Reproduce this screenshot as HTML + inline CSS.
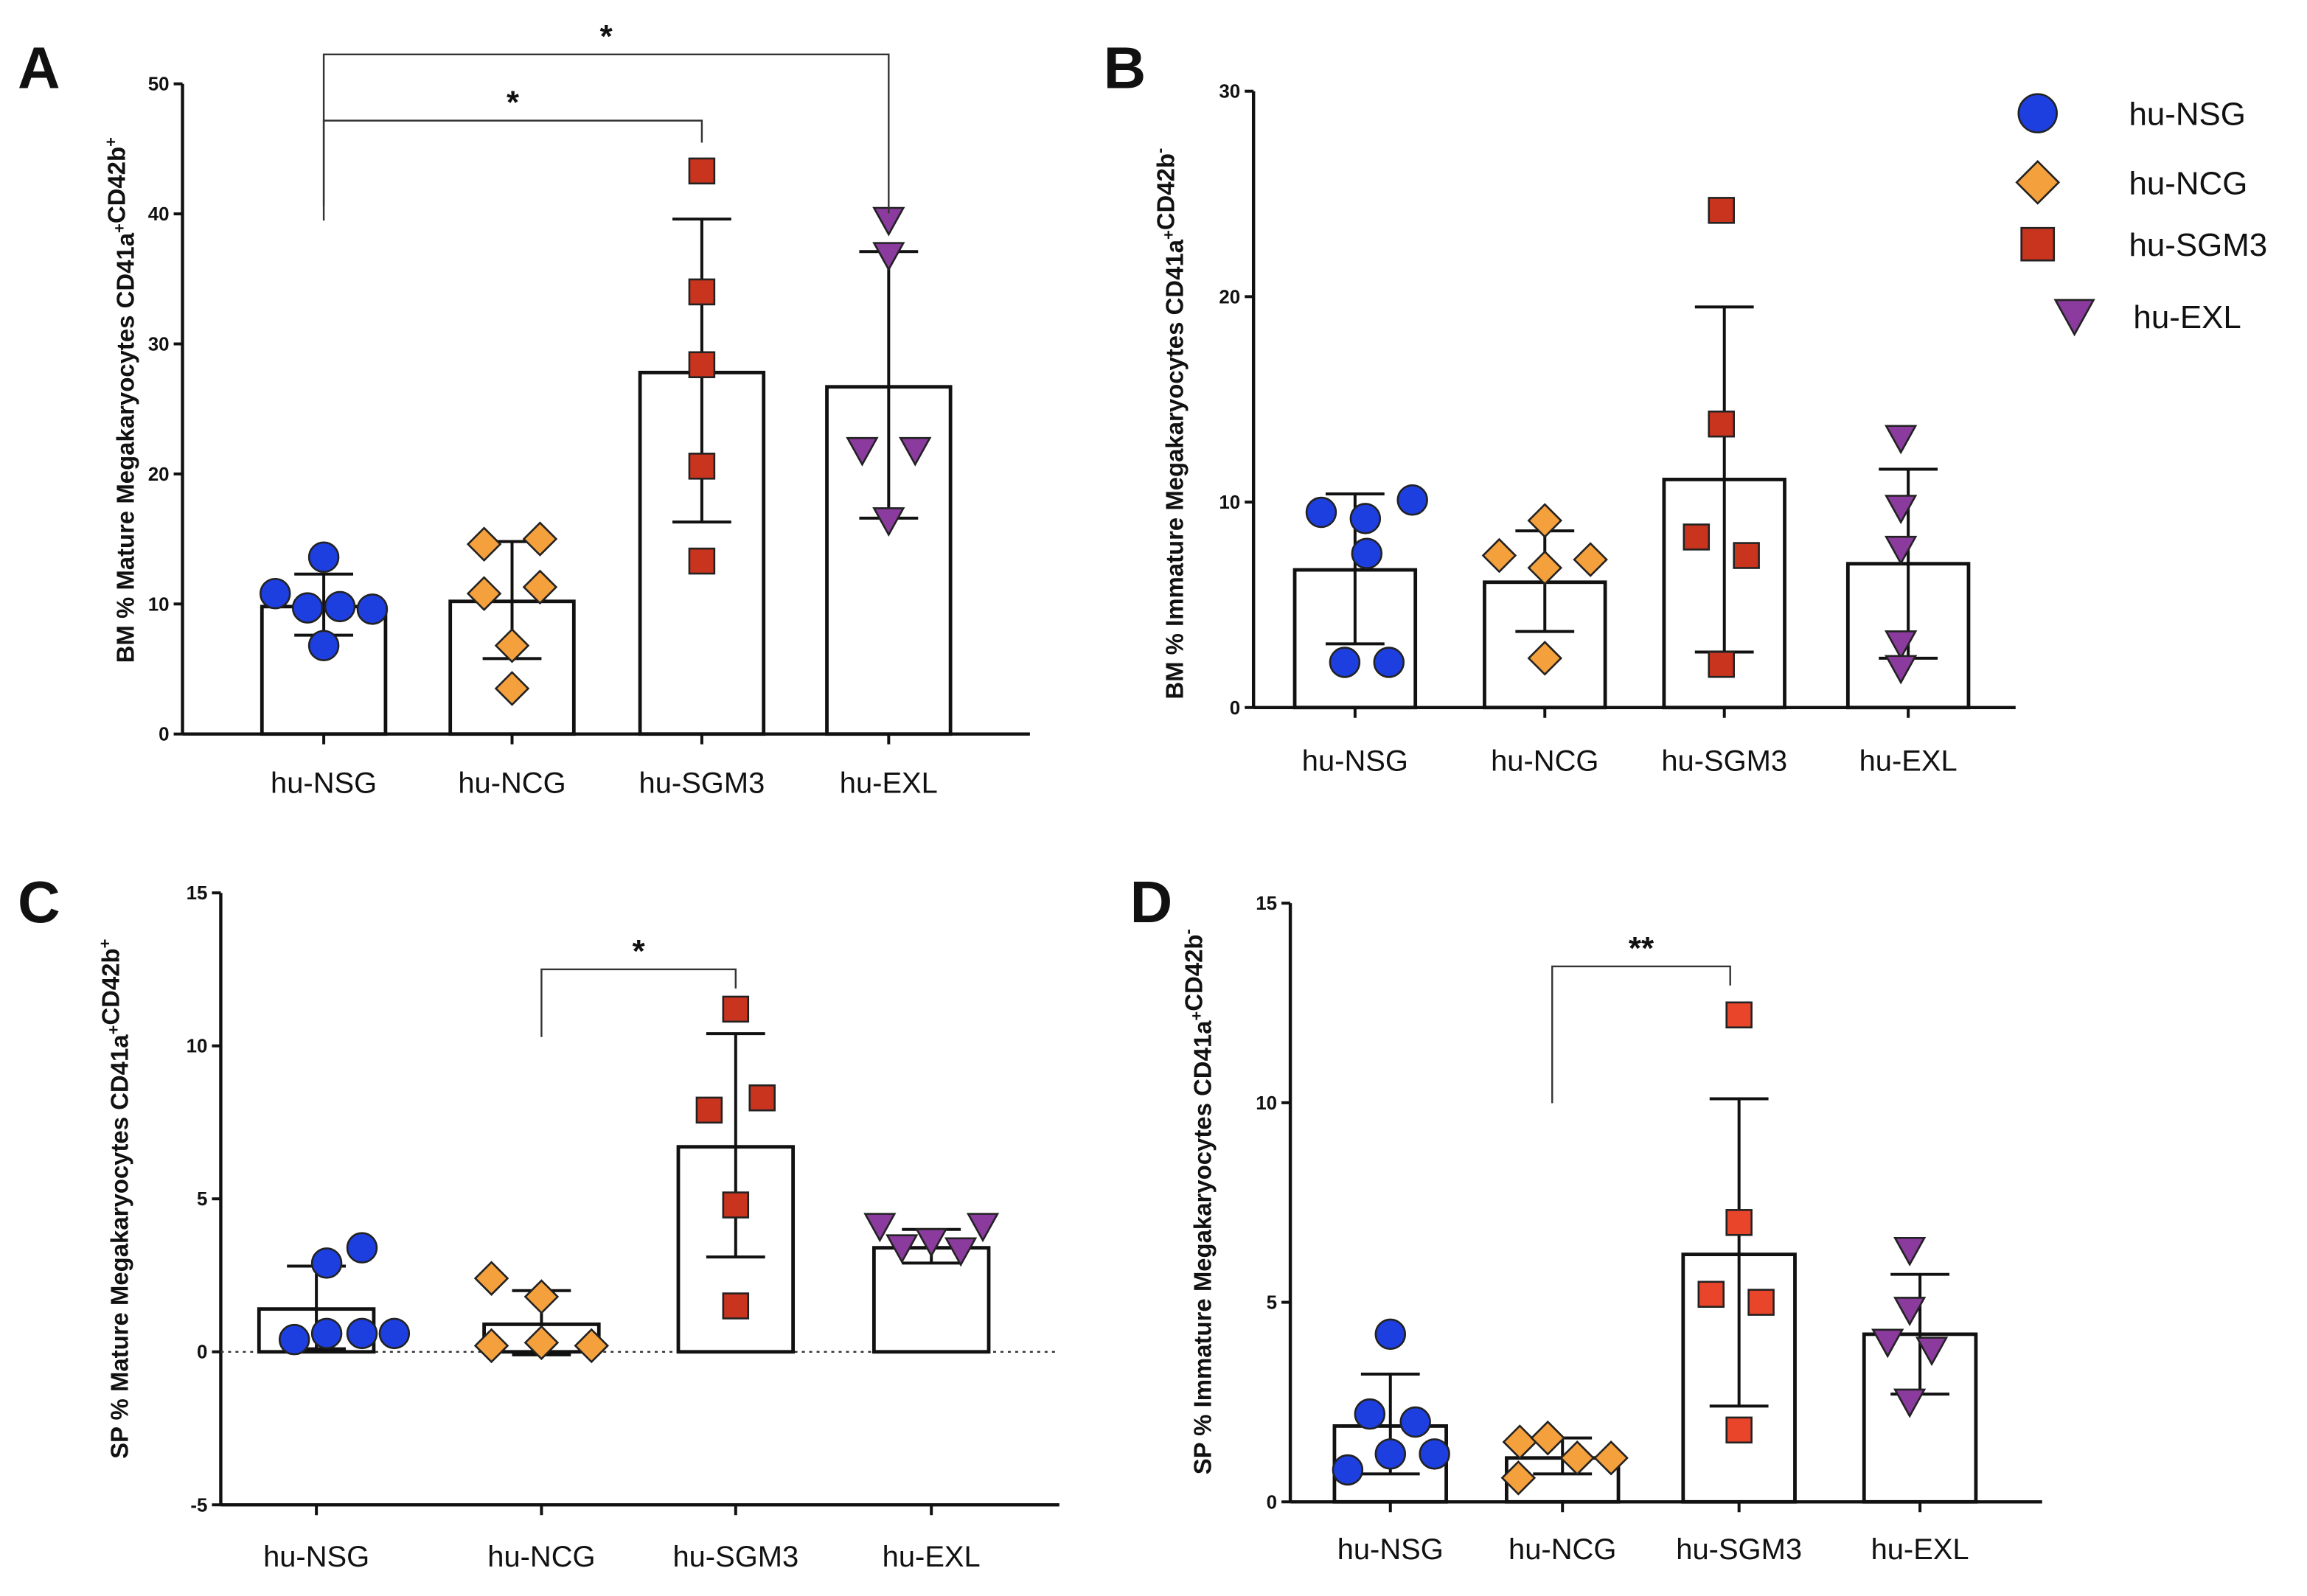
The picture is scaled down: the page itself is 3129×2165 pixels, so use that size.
<!DOCTYPE html>
<html><head><meta charset="utf-8"><style>
html,body{margin:0;padding:0;background:#fff}
svg{display:block}
text{font-family:"Liberation Sans",Arial,sans-serif}
</style></head><body>
<svg id="fig" width="3129" height="2165" viewBox="0 0 1568 1085" xmlns="http://www.w3.org/2000/svg"></svg>
<script>
const categories = ["hu-NSG","hu-NCG","hu-SGM3","hu-EXL"];
const colors = ["#1d3fe0","#f4a03c","#c9341f","#8b3a9e"];
const shapes = ["circle","diamond","square","triangle"];
// Panel A
const aMeans = [9.8,10.2,27.8,26.7];
const aErrLo = [7.6,5.8,16.3,16.6];
const aErrHi = [12.3,14.8,39.6,37.1];
const aPoints = [[13.6,10.8,9.7,9.8,9.6,6.8],[14.6,15.0,10.8,11.3,6.8,3.5],[43.3,34.0,28.4,20.6,13.3],[39.5,36.8,21.8,21.8,16.4]];
const aTicks = [0,10,20,30,40,50];
// Panel B
const bMeans = [6.7,6.1,11.1,7.0];
const bErrLo = [3.1,3.7,2.7,2.4];
const bErrHi = [10.4,8.6,19.5,11.6];
const bPoints = [[9.5,9.2,10.1,7.5,2.2,2.2],[7.4,9.1,6.8,7.2,2.4],[24.2,13.8,8.3,7.4,2.1],[13.1,9.7,7.7,3.1,1.9]];
const bTicks = [0,10,20,30];
// Panel C
const cMeans = [1.4,0.9,6.7,3.4];
const cErrLo = [0.1,-0.1,3.1,2.9];
const cErrHi = [2.8,2.0,10.4,4.0];
const cPoints = [[2.9,3.4,0.4,0.6,0.6,0.6],[2.4,1.8,0.2,0.3,0.2],[11.2,7.9,8.3,4.8,1.5],[4.1,3.6,4.1,3.4,3.3]];
const cTicks = [-5,0,5,10,15];
// Panel D
const dMeans = [1.9,1.1,6.2,4.2];
const dErrLo = [0.7,0.7,2.4,2.7];
const dErrHi = [3.2,1.6,10.1,5.7];
const dPoints = [[4.2,2.2,2.0,1.2,1.2,0.8],[1.5,1.6,0.6,1.1,1.1],[12.2,7.0,5.2,5.0,1.8],[6.3,4.8,4.0,3.8,2.5]];
const dTicks = [0,5,10,15];

const NS="http://www.w3.org/2000/svg";
const svg=document.getElementById('fig');
function mk(tag,attrs,parent){const e=document.createElementNS(NS,tag);for(const k in attrs)e.setAttribute(k,attrs[k]);(parent||svg).appendChild(e);return e;}
function marker(shape,color,x,y,g,sz){
  let e;
  if(shape==="circle") e=mk('circle',{cx:x,cy:y,r:10*sz},g);
  else if(shape==="diamond"){const r=11*sz;e=mk('polygon',{points:`${x},${y-r} ${x+r},${y} ${x},${y+r} ${x-r},${y}`},g);}
  else if(shape==="square"){const r=8.5*sz;e=mk('rect',{x:x-r,y:y-r,width:2*r,height:2*r},g);}
  else {const r=10*sz;e=mk('polygon',{points:`${x-r},${y-r*0.85} ${x+r},${y-r*0.85} ${x},${y+r*0.95}`},g);}
  e.setAttribute('fill',color);e.setAttribute('stroke','#222');e.setAttribute('stroke-width',1.3);
  return e;
}
function panel(cfg){
  const g=mk('g',{});
  
  
  const ys=v=>cfg.y0+(v-cfg.vmin)/(cfg.vmax-cfg.vmin)*(cfg.y1-cfg.y0);
  const ya=mk('line',{x1:cfg.ax,y1:ys(cfg.vmax),x2:cfg.ax,y2:ys(cfg.vmin),stroke:'#111','stroke-width':2.2},g);
  
  
  cfg.ticks.forEach(t=>{
    mk('line',{x1:cfg.ax-6,y1:ys(t),x2:cfg.ax,y2:ys(t),stroke:'#111','stroke-width':2},g);
    const tl=mk('text',{x:cfg.ax-9,y:ys(t)+4.5,'text-anchor':'end','font-size':13,'font-weight':'bold',fill:'#111'},g);
    tl.textContent=t;
    
    
  });
  const xa=mk('line',{x1:cfg.ax,y1:ys(cfg.vmin),x2:cfg.xend,y2:ys(cfg.vmin),stroke:'#111','stroke-width':2.2},g);
  
  
  if(cfg.vmin<0){mk('line',{x1:cfg.ax,y1:ys(0),x2:cfg.xend,y2:ys(0),stroke:'#333','stroke-width':1.2,'stroke-dasharray':'2,3'},g);}
  const yt=mk('text',{x:0,y:0,transform:`translate(${cfg.tx},${cfg.ty}) rotate(-90)`,'text-anchor':'middle','font-size':16.5,'font-weight':'bold',fill:'#111'},g);
  yt.innerHTML=cfg.title;
  
  
  const base=Math.max(0,cfg.vmin);
  categories.forEach((c,i)=>{
    const cx=cfg.cx[i];
    mk('line',{x1:cx,y1:ys(cfg.vmin),x2:cx,y2:ys(cfg.vmin)+7,stroke:'#111','stroke-width':2},g);
    const bar=mk('rect',{x:cx-cfg.bw/2,y:ys(cfg.means[i]),width:cfg.bw,height:ys(base)-ys(cfg.means[i]),fill:'#fff',stroke:'#111','stroke-width':2.4},g);
    
    
    const eb=mk('g',{},g);
    
    
    mk('line',{x1:cx,y1:ys(cfg.lo[i]),x2:cx,y2:ys(cfg.hi[i]),stroke:'#111','stroke-width':2},eb);
    mk('line',{x1:cx-20,y1:ys(cfg.lo[i]),x2:cx+20,y2:ys(cfg.lo[i]),stroke:'#111','stroke-width':2},eb);
    mk('line',{x1:cx-20,y1:ys(cfg.hi[i]),x2:cx+20,y2:ys(cfg.hi[i]),stroke:'#111','stroke-width':2},eb);
    cfg.pts[i].forEach((v,j)=>{
      const off=(cfg.offs[i][j]||0);
      const m=marker(shapes[i],cfg.colors[i],cx+off,ys(v),g,1);
      
      
    });
    const cl=mk('text',{x:cx,y:cfg.labY,'text-anchor':'middle','font-size':20,fill:'#111'},g);
    cl.textContent=c;
    
    
  });
  cfg.sig.forEach(s=>{
    const sg=mk('g',{},g);
    
    
    mk('polyline',{points:`${s.x1},${s.d1} ${s.x1},${s.y} ${s.x2},${s.y} ${s.x2},${s.d2}`,fill:'none',stroke:'#333','stroke-width':1.2},sg);
    const st=mk('text',{x:(s.x1+s.x2)/2,y:s.y-5,'text-anchor':'middle','font-size':22,'font-weight':'bold',fill:'#111'},sg);
    st.textContent=s.t;
  });
  const L=mk('text',{x:cfg.lx,y:cfg.ly,'font-size':40,'font-weight':'bold',fill:'#111'},g);
  L.textContent=cfg.letter;
  
  
}
const sup=(s)=>`<tspan font-size="11" dy="-6">${s}</tspan><tspan dy="6"></tspan>`;
panel({name:'panel-a',letter:'A',lx:12,ly:60,ax:124,xend:700,y0:499,y1:57,vmin:0,vmax:50,ticks:aTicks,
  cx:[220,348,477,604],bw:84,means:aMeans,lo:aErrLo,hi:aErrHi,pts:aPoints,colors:colors,
  offs:[[0,-33,-11,11,33,0],[-19,19,-19,19,0,0],[0,0,0,0,0],[0,0,-18,18,0]],
  title:'BM % Mature Megakaryocytes CD41a'+sup('+')+'CD42b'+sup('+'),tx:91,ty:272,labY:539,
  sig:[{x1:220,x2:604,y:37,d1:150,d2:145,t:'*'},{x1:220,x2:477,y:82,d1:140,d2:97,t:'*'}]});
panel({name:'panel-b',letter:'B',lx:750,ly:60,ax:852,xend:1370,y0:481,y1:62,vmin:0,vmax:30,ticks:bTicks,
  cx:[921,1050,1172,1297],bw:82,means:bMeans,lo:bErrLo,hi:bErrHi,pts:bPoints,colors:colors,
  offs:[[-23,7,39,8,-7,23],[-31,0,0,31,0],[-2,-2,-19,15,-2],[-5,-5,-5,-5,-5]],
  title:'BM % Immature Megakaryocytes CD41a'+sup('+')+'CD42b'+sup('-'),tx:804,ty:288,labY:524,sig:[]});
panel({name:'panel-c',letter:'C',lx:12,ly:627,ax:150,xend:720,y0:1023,y1:607,vmin:-5,vmax:15,ticks:cTicks,
  cx:[215,368,500,633],bw:78,means:cMeans,lo:cErrLo,hi:cErrHi,pts:cPoints,colors:colors,
  offs:[[7,31,-15,7,31,53],[-34,0,-34,0,34],[0,-18,18,0,0],[-35,0,35,-20,20]],
  title:'SP % Mature Megakaryocytes CD41a'+sup('+')+'CD42b'+sup('+'),tx:87,ty:815,labY:1065,
  sig:[{x1:368,x2:500,y:659,d1:705,d2:672,t:'*'}]});
panel({name:'panel-d',letter:'D',lx:768,ly:627,ax:877,xend:1388,y0:1021,y1:614,vmin:0,vmax:15,ticks:dTicks,
  cx:[945,1062,1182,1305],bw:76,means:dMeans,lo:dErrLo,hi:dErrHi,pts:dPoints,colors:["#1d3fe0","#f4a03c","#e9452a","#8b3a9e"],
  offs:[[0,-14,17,0,30,-29],[-29,-10,-30,10,33],[0,0,-19,15,0],[-7,-7,-22,8,-7]],
  title:'SP % Immature Megakaryocytes CD41a'+sup('+')+'CD42b'+sup('-'),tx:823,ty:817,labY:1060,
  sig:[{x1:1055,x2:1176,y:657,d1:750,d2:670,t:'**'}]});
const lg=mk('g',{});


const legY=[77,124,166,215];
const legX=[1385,1385,1385,1410];
categories.forEach((c,i)=>{
  const e=mk('g',{},lg);
  
  
  marker(shapes[i],colors[i],legX[i],legY[i],e,1.3);
  const t=mk('text',{x:i===3?1450:1447,y:legY[i]+8,'font-size':22,fill:'#111'},e);
  t.textContent=c;
});
</script>
</body></html>
